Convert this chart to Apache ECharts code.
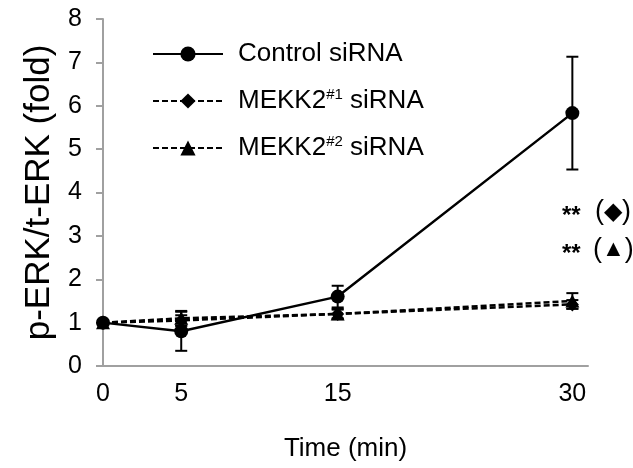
<!DOCTYPE html>
<html>
<head>
<meta charset="utf-8">
<script src="https://cdn.jsdelivr.net/npm/echarts@6/dist/echarts.min.js"></script>
<style>
html, body { margin: 0; padding: 0; background: #fff; }
#main { width: 633px; height: 468px; }
</style>
</head>
<body>
<div id="main"></div>
<script>
// 时间点 (min)
var times = [0, 5, 15, 30];
var xTickLabels = [0, 5, 15, 30];
// 各组均值与误差
var control = [1.0, 0.8, 1.6, 5.83];
var controlErr = [0.05, 0.45, 0.25, 1.3];
var mekk1 = [1.0, 1.05, 1.2, 1.42];
var mekk1Err = [0.05, 0.12, 0.1, 0.1];
var mekk2 = [1.0, 1.1, 1.2, 1.5];
var mekk2Err = [0.05, 0.17, 0.12, 0.18];
var names = ['Control siRNA', 'MEKK2#1 siRNA', 'MEKK2#2 siRNA'];

var FONT = "'Liberation Sans', Arial, Helvetica, sans-serif";

function pts(vals) {
    var arr = [];
    for (var i = 0; i < times.length; i++) {
        arr.push([times[i], vals[i]]);
    }
    return arr;
}

function errData(vals, errs) {
    var arr = [];
    for (var i = 0; i < times.length; i++) {
        arr.push([times[i], vals[i] - errs[i], vals[i] + errs[i]]);
    }
    return arr;
}

//误差线
function errSeries(vals, errs) {
    return {
        type: 'custom',
        silent: true,
        z: 1,
        data: errData(vals, errs),
        renderItem: function (params, api) {
            var x = api.value(0);
            var lo = api.coord([x, api.value(1)]);
            var hi = api.coord([x, api.value(2)]);
            var w = 6;
            var st = {stroke: '#000', lineWidth: 2};
            return {
                type: 'group',
                children: [
                    {type: 'line', shape: {x1: lo[0], y1: lo[1], x2: hi[0], y2: hi[1]}, style: st},
                    {type: 'line', shape: {x1: lo[0] - w, y1: lo[1], x2: lo[0] + w, y2: lo[1]}, style: st},
                    {type: 'line', shape: {x1: hi[0] - w, y1: hi[1], x2: hi[0] + w, y2: hi[1]}, style: st}
                ]
            };
        }
    };
}

//显著性标注
function sigText(y, sym, size, x) {
    return [
        {type: 'text', x: 562, y: y + 4, style: {text: '**', fontSize: 24, fontWeight: 'bold', fill: '#000', fontFamily: FONT, verticalAlign: 'middle'}},
        {
            type: 'text', x: x, y: y,
            style: {
                text: '{p|(}{s|' + sym + '}{p|)}',
                verticalAlign: 'middle',
                rich: {
                    p: {fontSize: 27, fill: '#000', fontFamily: FONT},
                    s: {fontSize: size, fill: '#000', fontFamily: FONT}
                }
            }
        }
    ];
}

var chart = echarts.init(document.getElementById('main'));
var option = {
    animation: false,
    textStyle: {fontFamily: FONT},
    grid: {left: 103, right: 45, top: 19, bottom: 102},
    legend: {
        orient: 'vertical',
        left: 147,
        top: 35,
        itemWidth: 70,
        itemHeight: 19,
        itemGap: 19,
        data: names,
        formatter: function (n) {
            if (n === names[1]) return 'MEKK2{sup|#1} siRNA';
            if (n === names[2]) return 'MEKK2{sup|#2} siRNA';
            return n;
        },
        textStyle: {
            fontSize: 26,
            lineHeight: 28,
            color: '#000',
            fontFamily: FONT,
            padding: [0, 0, 0, 10],
            rich: {
                sup: {fontSize: 15, lineHeight: 28, verticalAlign: 'top', padding: [0, 0, 8, 0], color: '#000', fontFamily: FONT}
            }
        }
    },
    xAxis: {
        type: 'value',
        min: 0,
        max: 31,
        interval: 5,
        name: 'Time (min)',
        nameLocation: 'middle',
        nameGap: 70,
        nameTextStyle: {fontSize: 26, color: '#000', fontFamily: FONT},
        splitLine: {show: false},
        axisTick: {show: false},
        axisLine: {lineStyle: {color: '#a0a0a0', width: 2}},
        axisLabel: {
            fontSize: 25,
            color: '#000',
            margin: 16,
            showMaxLabel: false,
            formatter: function (v) {
                return xTickLabels.indexOf(v) >= 0 ? String(v) : '';
            }
        }
    },
    yAxis: {
        type: 'value',
        min: 0,
        max: 8,
        interval: 1,
        name: 'p-ERK/t-ERK (fold)',
        nameLocation: 'middle',
        nameRotate: 90,
        nameGap: 46,
        nameTextStyle: {fontSize: 35, color: '#000', fontFamily: FONT},
        splitLine: {show: false},
        axisLine: {show: true, lineStyle: {color: '#a0a0a0', width: 2}},
        axisTick: {show: true, length: 7, lineStyle: {color: '#a0a0a0', width: 2}},
        axisLabel: {fontSize: 25, color: '#000', margin: 21}
    },
    graphic: sigText(212, '◆', 24, 595).concat(sigText(250, '▲', 23, 593)),
    series: [
        errSeries(control, controlErr),
        errSeries(mekk1, mekk1Err),
        errSeries(mekk2, mekk2Err),
        {
            name: names[0], type: 'line', z: 3,
            data: pts(control),
            symbol: 'circle', symbolSize: 14,
            itemStyle: {color: '#000'},
            lineStyle: {color: '#000', width: 2.5, type: 'solid'}
        },
        {
            name: names[1], type: 'line', z: 3,
            data: pts(mekk1),
            symbol: 'diamond', symbolSize: [13, 14],
            itemStyle: {color: '#000'},
            lineStyle: {color: '#000', width: 2.5, type: [6, 3]}
        },
        {
            name: names[2], type: 'line', z: 3,
            data: pts(mekk2),
            symbol: 'triangle', symbolSize: [14, 13],
            itemStyle: {color: '#000'},
            lineStyle: {color: '#000', width: 2.5, type: [6, 3]}
        }
    ]
};
chart.setOption(option);
</script>
</body>
</html>
